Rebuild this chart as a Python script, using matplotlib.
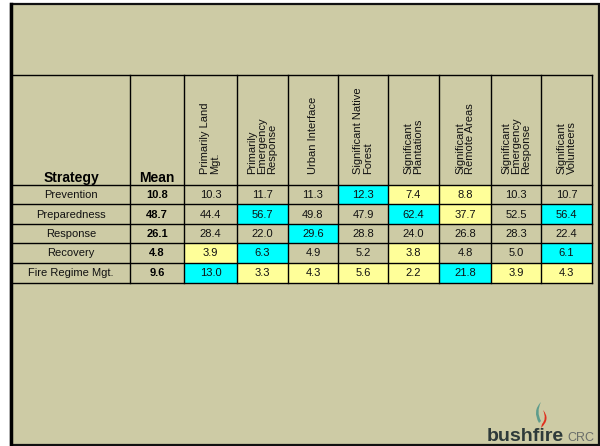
import matplotlib
matplotlib.use("Agg")
import matplotlib.pyplot as plt
from matplotlib.patches import Rectangle, PathPatch
from matplotlib.path import Path

plt.rcParams['font.family'] = ['Liberation Sans', 'DejaVu Sans']

# ---- data ----
strategies = ["Prevention", "Preparedness", "Response", "Recovery", "Fire Regime Mgt."]
means = [10.8, 48.7, 26.1, 4.8, 9.6]
groups = ["Primarily Land\nMgt.", "Primarily\nEmergency\nResponse", "Urban Interface",
          "Significant Native\nForest", "Significant\nPlantations", "Significant\nRemote Areas",
          "Significant\nEmergency\nResponse", "Significant\nVolunteers"]
values = [
    [10.3, 11.7, 11.3, 12.3, 7.4, 8.8, 10.3, 10.7],
    [44.4, 56.7, 49.8, 47.9, 62.4, 37.7, 52.5, 56.4],
    [28.4, 22.0, 29.6, 28.8, 24.0, 26.8, 28.3, 22.4],
    [3.9, 6.3, 4.9, 5.2, 3.8, 4.8, 5.0, 6.1],
    [13.0, 3.3, 4.3, 5.6, 2.2, 21.8, 3.9, 4.3],
]
# highlight: 'h' = high (cyan), 'l' = low (yellow), '' = none
highlight = [
    ['', '', '', 'h', 'l', 'l', '', ''],
    ['', 'h', '', '', 'h', 'l', '', 'h'],
    ['', '', 'h', '', '', '', '', ''],
    ['l', 'h', '', '', 'l', '', '', 'h'],
    ['h', 'l', 'l', 'l', 'l', 'h', 'l', 'l'],
]

# ---- layout ----
BG = '#CDCBA5'
HI = '#00FFFF'
LO = '#FFFF99'
col_edges = [12, 130, 184, 237, 288, 338, 388, 439, 491, 541, 592]
row_edges = [75, 185, 204, 224, 243, 263, 283]

fig = plt.figure(figsize=(6.0, 4.46), dpi=100)
ax = fig.add_axes([0, 0, 1, 1])
ax.set_xlim(0, 600)
ax.set_ylim(446, 0)
ax.axis('off')
fig.patch.set_facecolor('white')

# slide
ax.add_patch(Rectangle((11, 4), 587.5, 440.5, facecolor=BG, edgecolor='#111111', lw=1.6, zorder=0))
ax.plot([11, 11], [4, 445], color='black', lw=2.5, zorder=1)

# highlighted cells
colmap = {'h': HI, 'l': LO}
for i in range(len(strategies)):
    for j in range(len(groups)):
        c = highlight[i][j]
        if c:
            x0 = col_edges[j + 2]
            x1 = col_edges[j + 3]
            y0 = row_edges[i + 1]
            y1 = row_edges[i + 2]
            ax.add_patch(Rectangle((x0, y0), x1 - x0, y1 - y0, facecolor=colmap[c],
                                   edgecolor='none', zorder=1))

# grid lines
lc = '#000000'
for y in row_edges:
    ax.plot([col_edges[0], col_edges[-1]], [y, y], color=lc, lw=1.0, zorder=2)
for x in col_edges[1:]:
    ax.plot([x, x], [row_edges[0], row_edges[-1]], color=lc, lw=1.0, zorder=2)

# header
ax.text((col_edges[0] + col_edges[1]) / 2, 182, "Strategy", ha='center', va='baseline',
        fontsize=10, fontweight='bold', color='black', zorder=3)
ax.text((col_edges[1] + col_edges[2]) / 2, 182, "Mean", ha='center', va='baseline',
        fontsize=10, fontweight='bold', color='black', zorder=3)
for j, g in enumerate(groups):
    cx = (col_edges[j + 2] + col_edges[j + 3]) / 2
    ax.text(cx, 174, g, rotation=90, ha='center', va='bottom', multialignment='left',
            fontsize=8, color='#111111', linespacing=1.0, zorder=3)

# body
for i, s in enumerate(strategies):
    cy = (row_edges[i + 1] + row_edges[i + 2]) / 2 + 0.5
    ax.text((col_edges[0] + col_edges[1]) / 2, cy, s, ha='center', va='center',
            fontsize=8, color='#111111', zorder=3)
    ax.text((col_edges[1] + col_edges[2]) / 2, cy, f"{means[i]:.1f}", ha='center', va='center',
            fontsize=8, fontweight='bold', color='black', zorder=3)
    for j in range(len(groups)):
        cx = (col_edges[j + 2] + col_edges[j + 3]) / 2
        ax.text(cx, cy, f"{values[i][j]:.1f}", ha='center', va='center',
                fontsize=8, color='#111111', zorder=3)

# logo
ax.text(487, 441, "bushfire", ha='left', va='baseline', fontsize=14, fontweight='bold',
        color='#2E3A3A', zorder=3)
ax.text(567, 441, "CRC", ha='left', va='baseline', fontsize=9, color='#6A6E6A', zorder=3)
teal = Path([(541, 402), (532, 411), (539, 423), (541, 421), (536, 412), (541, 402)],
            [Path.MOVETO, Path.CURVE3, Path.CURVE3, Path.LINETO, Path.CURVE3, Path.CURVE3])
red = Path([(543, 410), (551, 419), (541, 428), (542, 424), (547, 419), (543, 410)],
           [Path.MOVETO, Path.CURVE3, Path.CURVE3, Path.LINETO, Path.CURVE3, Path.CURVE3])
ax.add_patch(PathPatch(teal, facecolor='#5E9C8C', edgecolor='none', zorder=3))
ax.add_patch(PathPatch(red, facecolor='#E0301E', edgecolor='none', zorder=3))

fig.savefig("out.png", dpi=100, facecolor='white')
